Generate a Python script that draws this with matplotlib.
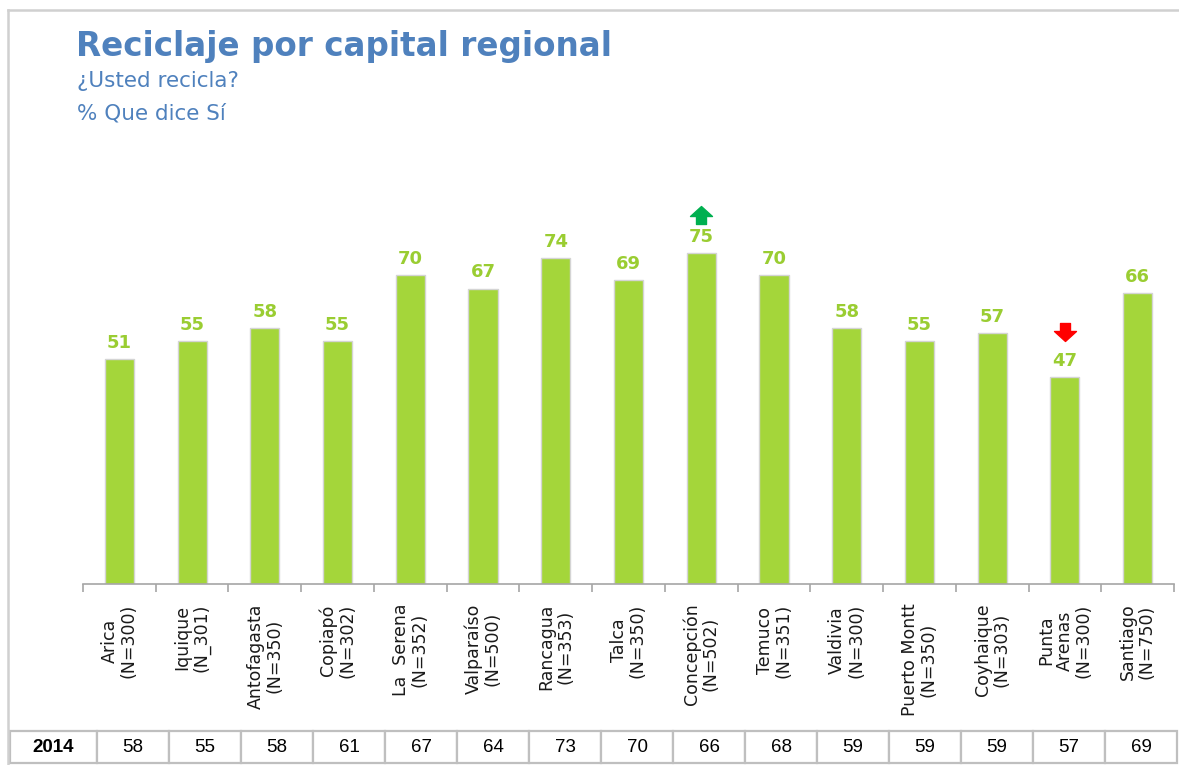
import matplotlib
matplotlib.use("Agg")
import matplotlib.pyplot as plt
from matplotlib.path import Path
from matplotlib.lines import Line2D

# ---- data ----
categories = ["Arica\n(N=300)", "Iquique\n(N_301)", "Antofagasta\n(N=350)", "Copiapó\n(N=302)",
              "La  Serena\n(N=352)", "Valparaíso\n(N=500)", "Rancagua\n(N=353)", "Talca\n(N=350)",
              "Concepción\n(N=502)", "Temuco\n(N=351)", "Valdivia\n(N=300)", "Puerto Montt\n(N=350)",
              "Coyhaique\n(N=303)", "Punta\nArenas\n(N=300)", "Santiago\n(N=750)"]
values_2015 = [51, 55, 58, 55, 70, 67, 74, 69, 75, 70, 58, 55, 57, 47, 66]
values_2014 = [58, 55, 58, 61, 67, 64, 73, 70, 66, 68, 59, 59, 59, 57, 69]
table_label = "2014"
arrow_up = ["Concepción\n(N=502)"]
arrow_down = ["Punta\nArenas\n(N=300)"]

title = "Reciclaje por capital regional"
subtitle1 = "¿Usted recicla?"
subtitle2 = "% Que dice Sí"

W, H = 1179, 765
fig = plt.figure(figsize=(W / 100, H / 100), dpi=100)
fig.patch.set_facecolor("white")

def fx(px):
    return px / W

def fy(py):
    return 1 - py / H

# frame
fig.add_artist(Line2D([fx(8), fx(1179)], [fy(10), fy(10)], color="#D0D0D0", lw=1.8))
fig.add_artist(Line2D([fx(8), fx(8)], [fy(10), fy(765)], color="#D0D0D0", lw=1.8))

blue = "#4F81BD"
fig.text(fx(76), fy(56), title, fontsize=23.5, fontweight="bold", color=blue,
         family="DejaVu Sans", va="baseline")
fig.text(fx(77), fy(87), subtitle1, fontsize=15.5, color=blue, family="DejaVu Sans", va="baseline")
fig.text(fx(77), fy(120), subtitle2, fontsize=15.5, color=blue, family="DejaVu Sans", va="baseline")

# main axes
x0, x1 = 83, 1174
ybase = 584
ppu = 4.41
ymax = 100
ax = fig.add_axes([fx(x0), fy(ybase), (x1 - x0) / W, ymax * ppu / H])
n = len(categories)
xs = list(range(n))
bar_color = "#A4D63A"
ax.bar(xs, values_2015, width=0.4, color=bar_color, edgecolor="#D4D4D4", linewidth=1.0, zorder=2)
ax.set_xlim(-0.5, n - 0.5)
ax.set_ylim(0, ymax)
for s in ["top", "right", "left"]:
    ax.spines[s].set_visible(False)
ax.spines["bottom"].set_color("#A6A6A6")
ax.spines["bottom"].set_linewidth(1.2)
ax.set_yticks([])
ax.set_xticks(xs)
ax.set_xticklabels(categories, rotation=90, fontsize=12.5, family="DejaVu Sans",
                   color="#1A1A1A", linespacing=1.05)
ax.tick_params(axis="x", which="major", length=0, pad=14)
ax.set_xticks([i - 0.5 for i in range(n + 1)], minor=True)
ax.tick_params(axis="x", which="minor", length=6, width=1.2, color="#A6A6A6")

label_color = "#9ACD32"
for x, v in zip(xs, values_2015):
    ax.annotate(str(v), (x, v), xytext=(0, 8), textcoords="offset points",
                ha="center", va="baseline", fontsize=13, fontweight="bold",
                color=label_color, family="DejaVu Sans")

# arrow markers
up_path = Path([(-5, -9), (5, -9), (5, -1), (11, -1), (0, 9), (-11, -1), (-5, -1), (-5, -9)], closed=True)
down_path = Path([(x, -y) for x, y in up_path.vertices], closed=True)
for c in arrow_up:
    i = categories.index(c)
    ax.plot([i], [values_2015[i] + 38 / ppu], marker=up_path, markersize=15.8,
            color="#00B050", linestyle="none", clip_on=False)
for c in arrow_down:
    i = categories.index(c)
    ax.plot([i], [values_2015[i] + 44.5 / ppu], marker=down_path, markersize=15.8,
            color="#FF0000", linestyle="none", clip_on=False)

# table
tl, tr, tt, tb = 10, 1177, 731, 763
tax = fig.add_axes([fx(tl), fy(tb), (tr - tl) / W, (tb - tt) / H])
tax.axis("off")
first_w = 97 - tl
other_w = (tr - 97) / n
widths = [first_w] + [other_w] * n
tot = sum(widths)
tbl = tax.table(cellText=[[table_label] + [str(v) for v in values_2014]],
                colWidths=[w / tot for w in widths], bbox=[0, 0, 1, 1], cellLoc="center")
tbl.auto_set_font_size(False)
for (r, c), cell in tbl.get_celld().items():
    cell.set_edgecolor("#BFBFBF")
    cell.set_linewidth(1.6)
    cell.get_text().set_fontsize(13.5)
    cell.get_text().set_family("Liberation Sans")
    if c == 0:
        cell.get_text().set_fontweight("bold")

fig.savefig("out.png", dpi=100, facecolor="white")
